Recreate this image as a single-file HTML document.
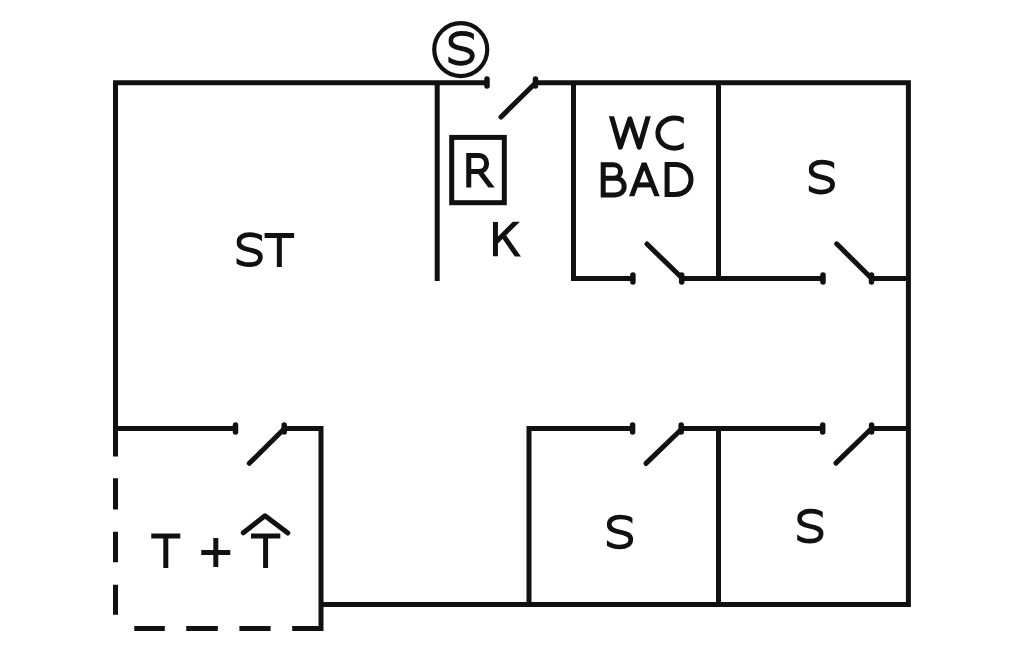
<!DOCTYPE html>
<html><head><meta charset="utf-8">
<style>
html,body{margin:0;padding:0;background:#fff;}
svg{display:block;}
</style></head>
<body>
<svg width="1024" height="652" viewBox="0 0 1024 652">
<defs>
  <clipPath id="sclip" clipPathUnits="userSpaceOnUse"><path d="M0.4 -2 H25.9 V14 H29 V37 H0.4 Z"/></clipPath>
  <path id="S" clip-path="url(#sclip)" stroke-width="4.7" d="M27.8 7.6 C24.5 3.6 19 2.3 13.4 2.3 C7 2.3 2.7 5.2 2.7 9.8 C2.7 14.5 7 16 13 17.3 C19.5 18.7 24.3 20 24.3 24.5 C24.3 29.5 19.5 32.3 13.3 32.3 C8 32.3 3.5 31.1 -1 27.3"/>
  <clipPath id="cR" clipPathUnits="userSpaceOnUse"><rect x="460" y="150" width="40" height="37.5"/></clipPath>
  <clipPath id="cK" clipPathUnits="userSpaceOnUse"><rect x="485" y="221.85" width="45" height="34.65"/></clipPath>
  <clipPath id="cW" clipPathUnits="userSpaceOnUse"><rect x="600" y="116.2" width="60" height="40"/></clipPath>
  <clipPath id="cC" clipPathUnits="userSpaceOnUse"><rect x="650" y="110" width="33.8" height="45"/></clipPath>
  <clipPath id="cA" clipPathUnits="userSpaceOnUse"><rect x="620" y="155" width="45" height="41.3"/></clipPath>
</defs>
<rect width="1024" height="652" fill="#fff"/>
<g fill="none" stroke="#111" stroke-width="5" stroke-linejoin="miter" stroke-linecap="butt">
  <!-- top-left outer wall -->
  <path d="M115.5 456.5 V82.75 H487"/>
  <!-- top right outer wall + right + bottom -->
  <path d="M535.5 82.75 H908.4 V604.5 H321"/>
  <!-- inner wall kitchen -->
  <path d="M437.2 82.75 V281"/>
  <!-- R box -->
  <rect x="451.7" y="137.4" width="52.6" height="65.3"/>
  <!-- WC room -->
  <path d="M573.5 82.75 V278.5 H633"/>
  <path d="M718.5 82.75 V278.5"/>
  <path d="M681.7 278.5 H823"/>
  <path d="M872 278.5 H908.4"/>
  <!-- lower left -->
  <path d="M115.5 428.5 H235.5"/>
  <path d="M284.2 428.5 H321 V628.4 H292.2"/>
  <!-- dashes -->
  <path d="M115.5 478.3 V509.5 M115.5 531.8 V562.2 M115.5 584.8 V614.8"/>
  <path d="M134.3 628.4 H164.8 M186.25 628.4 H217.8 M239.4 628.4 H270.6"/>
  <!-- lower rooms -->
  <path d="M529 604.5 V428.5 H633"/>
  <path d="M681.2 428.5 H823"/>
  <path d="M718.5 428.5 V604.5"/>
  <path d="M871.6 428.5 H908.4"/>
  <!-- glyphs -->
  <use href="#S" transform="translate(448,31.1)"/>
  <use href="#S" transform="translate(808.3,159.8)"/>
  <use href="#S" transform="translate(236.1,232.4)"/>
  <use href="#S" transform="translate(606.5,514.7)"/>
  <use href="#S" transform="translate(796.8,508.9)"/>
  <!-- R -->
  <path d="M468.75 187.5 V155.5 H478.5 C483.5 155.5 486.6 159 486.6 163.5 C486.6 168 483.5 171.5 478.5 171.5 H468.75"/>
  <path clip-path="url(#cR)" d="M479.5 171.5 L493.8 190.5"/>
  <!-- K -->
  <g clip-path="url(#cK)"><path d="M495.45 221.85 V256.5 M519.5 218.6 L496.5 241.5 M503.5 235.8 L520 259.6"/></g>
  <!-- W -->
  <path clip-path="url(#cW)" stroke-linejoin="round" d="M609.7 110 L620.35 147.2 L629.85 118.7 L639.2 147.2 L650 110"/>
  <!-- C -->
  <path clip-path="url(#cC)" d="M686 122.3 A16.5 15.15 0 1 0 686 143.8"/>
  <!-- B -->
  <path d="M603.2 178.25 H613.5 C617.5 178.25 620.5 175.3 620.5 171.5 C620.5 167.7 617.5 164.8 613.5 164.8 H603.2 V194.9 H615 C620.5 194.9 624.2 191.3 624.2 186.6 C624.2 181.8 620.5 178.25 615 178.25 H613.5"/>
  <!-- A -->
  <path clip-path="url(#cA)" stroke-linejoin="bevel" d="M630.24 200 L644.15 163.4 L658.46 200"/>
  <path d="M636 184.9 H652.5"/>
  <!-- D -->
  <path d="M667.1 164.6 H675 C685 164.6 691 171 691 179.5 C691 188 685 194.4 675 194.4 H667.1 Z"/>
  <!-- ST's T -->
  <path d="M264.6 235.4 H294.1 M279.35 235.4 V266.9"/>
  <!-- T + T -->
  <path d="M151.25 536 H180.3 M165.8 536 V568"/>
  <path d="M201.25 552.4 H230.3 M215.8 538 V567"/>
  <path d="M251 536 H280.3 M265.6 536 V568"/>
</g>
<!-- ticks & doors -->
<g fill="none" stroke="#111" stroke-width="5" stroke-linecap="round">
  <path stroke-width="5.5" d="M487 79 V86 M535.5 79 V86"/>
  <path d="M535.5 83 L501 117"/>
  <path stroke-width="5.5" d="M632.9 275 V282 M681.7 275 V282"/>
  <path d="M647 244 L682 278"/>
  <path stroke-width="5.5" d="M823 275 V282 M871.5 275 V282"/>
  <path d="M836.7 243.8 L871.2 278"/>
  <path stroke-width="5.5" d="M235.5 425 V432 M284.2 425 V432"/>
  <path d="M284.5 428.5 L249.3 463.3"/>
  <path stroke-width="5.5" d="M632.6 425 V432 M681.2 425 V432"/>
  <path d="M682 428.7 L646 463.4"/>
  <path stroke-width="5.5" d="M822.7 425 V432 M871.6 425 V432"/>
  <path d="M871.3 428.7 L835.9 463.1"/>
</g>
<circle cx="460.75" cy="49.6" r="26.5" fill="none" stroke="#111" stroke-width="4.2"/>
<path d="M243.3 532.8 L265 515.8 L287.8 533" fill="none" stroke="#111" stroke-width="5" stroke-linecap="round" stroke-linejoin="round"/>
</svg>
</body></html>
